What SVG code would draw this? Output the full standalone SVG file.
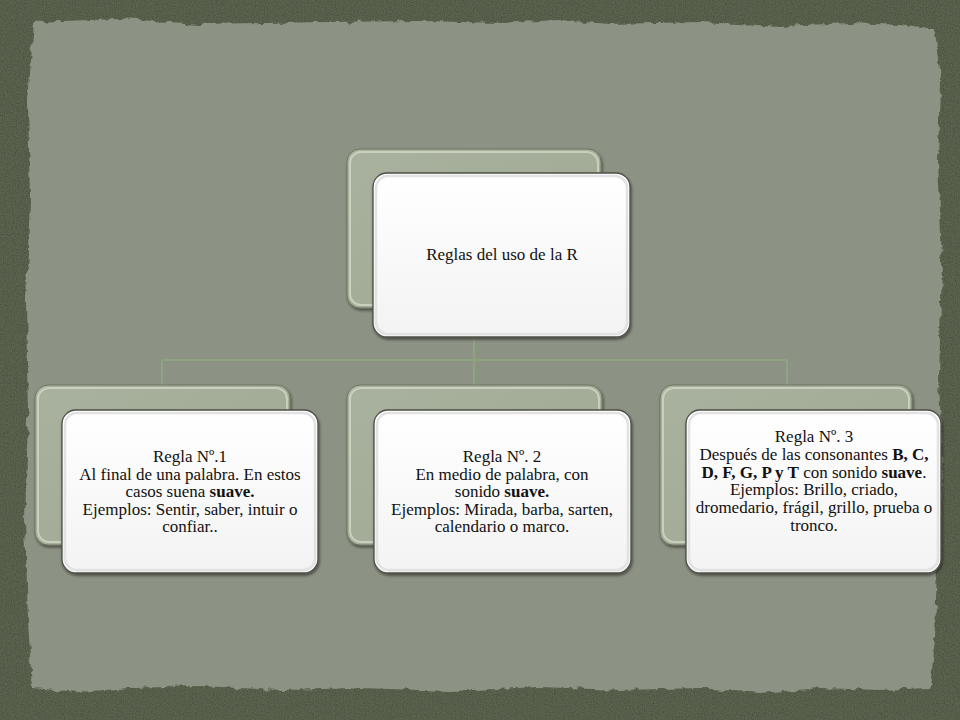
<svg xmlns="http://www.w3.org/2000/svg" width="960" height="720" viewBox="0 0 960 720">
  <defs>
    <filter id="rough" x="-5%" y="-5%" width="110%" height="110%">
      <feTurbulence type="fractalNoise" baseFrequency="0.09" numOctaves="3" seed="4" result="n"/>
      <feDisplacementMap in="SourceGraphic" in2="n" scale="7" xChannelSelector="R" yChannelSelector="G"/>
    </filter>
    <filter id="grain" x="0" y="0" width="100%" height="100%">
      <feTurbulence type="fractalNoise" baseFrequency="0.9" numOctaves="2" seed="2" result="t"/>
      <feColorMatrix in="t" type="matrix" values="0 0 0 0 0  0 0 0 0 0  0 0 0 0 0  0 0 0 -1.2 0.75" result="a"/>
      <feComposite in="a" in2="SourceGraphic" operator="in" result="m"/>
      <feMerge><feMergeNode in="SourceGraphic"/><feMergeNode in="m"/></feMerge>
    </filter>
    <filter id="shadow" x="-10%" y="-10%" width="125%" height="125%">
      <feGaussianBlur in="SourceAlpha" stdDeviation="1.5"/>
      <feOffset dx="1" dy="1.5" result="b"/>
      <feComponentTransfer in="b" result="s"><feFuncA type="linear" slope="0.5"/></feComponentTransfer>
      <feMerge><feMergeNode in="s"/><feMergeNode in="SourceGraphic"/></feMerge>
    </filter>
    <linearGradient id="backg" x1="0" y1="0" x2="1" y2="1">
      <stop offset="0" stop-color="#a9b29e"/>
      <stop offset="1" stop-color="#9ea892"/>
    </linearGradient>
    <linearGradient id="frontg" x1="0" y1="0" x2="0" y2="1">
      <stop offset="0" stop-color="#ffffff"/>
      <stop offset="1" stop-color="#f3f3f3"/>
    </linearGradient>
  </defs>
  <style>
    .back { fill: url(#backg); stroke: #6f7763; stroke-width: 1; }
    .backhl { fill: none; stroke: #d8ddd0; stroke-width: 2; opacity: 0.7; }
    .front { fill: url(#frontg); stroke: #4d4f48; stroke-width: 1.3; }
    .fronthl { fill: none; stroke: #e2e2e2; stroke-width: 2.5; }
    .lbl { font-family: "Liberation Serif", "DejaVu Serif", serif; font-size: 17px; fill: #111; text-anchor: middle; }
    .b { font-weight: bold; }
    .conn { fill: none; stroke: #8ea380; stroke-width: 2; }
  </style>

  <!-- background -->
  <rect x="0" y="0" width="960" height="720" fill="#5c634f"/>
  <rect x="0" y="0" width="960" height="720" fill="#5c634f" filter="url(#grain)" opacity="0.6"/>
  <path filter="url(#rough)" fill="#8d9384" d="M34,22 L120,19 L200,24 L330,22 L420,21 L500,23 L560,20 L610,24 L700,22 L780,26 L850,23 L900,25 L935,30 L940,80 L938,160 L942,260 L939,380 L943,480 L937,560 L935,640 L930,688 L880,690 L820,688 L760,693 L700,688 L620,690 L540,687 L450,691 L360,688 L280,690 L200,686 L130,688 L80,692 L32,688 L28,620 L25,520 L28,420 L26,300 L30,200 L28,100 Z"/>

  <!-- connectors -->
  <g id="connectors">
    <path class="conn" d="M474,337 L474,360"/>
    <path class="conn" d="M162,360 L787,360"/>
    <path class="conn" d="M162,360 L162,387"/>
    <path class="conn" d="M474,360 L474,387"/>
    <path class="conn" d="M787,360 L787,387"/>
  </g>

  <!-- top node -->
  <g id="node-root">
    <rect class="back" x="347" y="149" width="254" height="159" rx="13" filter="url(#shadow)"/>
    <rect class="backhl" x="350" y="152" width="248" height="153" rx="11"/>
    <rect class="front" x="373" y="173" width="257" height="164" rx="14" filter="url(#shadow)"/>
    <rect class="fronthl" x="376" y="176" width="251" height="158" rx="12"/>
    <text class="lbl" x="502" y="260">Reglas del uso de la R</text>
  </g>

  <!-- node 1 -->
  <g id="node-1">
    <rect class="back" x="35" y="385" width="255" height="160" rx="13" filter="url(#shadow)"/>
    <rect class="backhl" x="38" y="388" width="249" height="154" rx="11"/>
    <rect class="front" x="62" y="410" width="256" height="163" rx="14" filter="url(#shadow)"/>
    <rect class="fronthl" x="65" y="413" width="250" height="157" rx="12"/>
    <text class="lbl" x="190" y="462">Regla Nº.1</text>
    <text class="lbl" x="190" y="479.5">Al final de una palabra. En estos</text>
    <text class="lbl" x="190" y="497">casos suena <tspan class="b">suave.</tspan></text>
    <text class="lbl" x="190" y="514.5">Ejemplos: Sentir, saber, intuir o</text>
    <text class="lbl" x="190" y="532">confiar..</text>
  </g>

  <!-- node 2 -->
  <g id="node-2">
    <rect class="back" x="347" y="385" width="255" height="160" rx="13" filter="url(#shadow)"/>
    <rect class="backhl" x="350" y="388" width="249" height="154" rx="11"/>
    <rect class="front" x="374" y="410" width="257" height="163" rx="14" filter="url(#shadow)"/>
    <rect class="fronthl" x="377" y="413" width="251" height="157" rx="12"/>
    <text class="lbl" x="502" y="462">Regla Nº. 2</text>
    <text class="lbl" x="502" y="479.5">En medio de palabra, con</text>
    <text class="lbl" x="502" y="497">sonido <tspan class="b">suave.</tspan></text>
    <text class="lbl" x="502" y="514.5">Ejemplos: Mirada, barba, sarten,</text>
    <text class="lbl" x="502" y="532">calendario o marco.</text>
  </g>

  <!-- node 3 -->
  <g id="node-3">
    <rect class="back" x="660" y="385" width="252" height="160" rx="13" filter="url(#shadow)"/>
    <rect class="backhl" x="663" y="388" width="246" height="154" rx="11"/>
    <rect class="front" x="686" y="410" width="255" height="163" rx="14" filter="url(#shadow)"/>
    <rect class="fronthl" x="689" y="413" width="249" height="157" rx="12"/>
    <text class="lbl" x="814" y="442">Regla Nº. 3</text>
    <text class="lbl" x="814" y="460">Después de las consonantes <tspan class="b">B, C,</tspan></text>
    <text class="lbl" x="814" y="477.5"><tspan class="b">D, F, G, P y T</tspan> con sonido <tspan class="b">suave</tspan>.</text>
    <text class="lbl" x="814" y="495">Ejemplos: Brillo, criado,</text>
    <text class="lbl" x="814" y="513">dromedario, frágil, grillo, prueba o</text>
    <text class="lbl" x="814" y="531">tronco.</text>
  </g>
</svg>
